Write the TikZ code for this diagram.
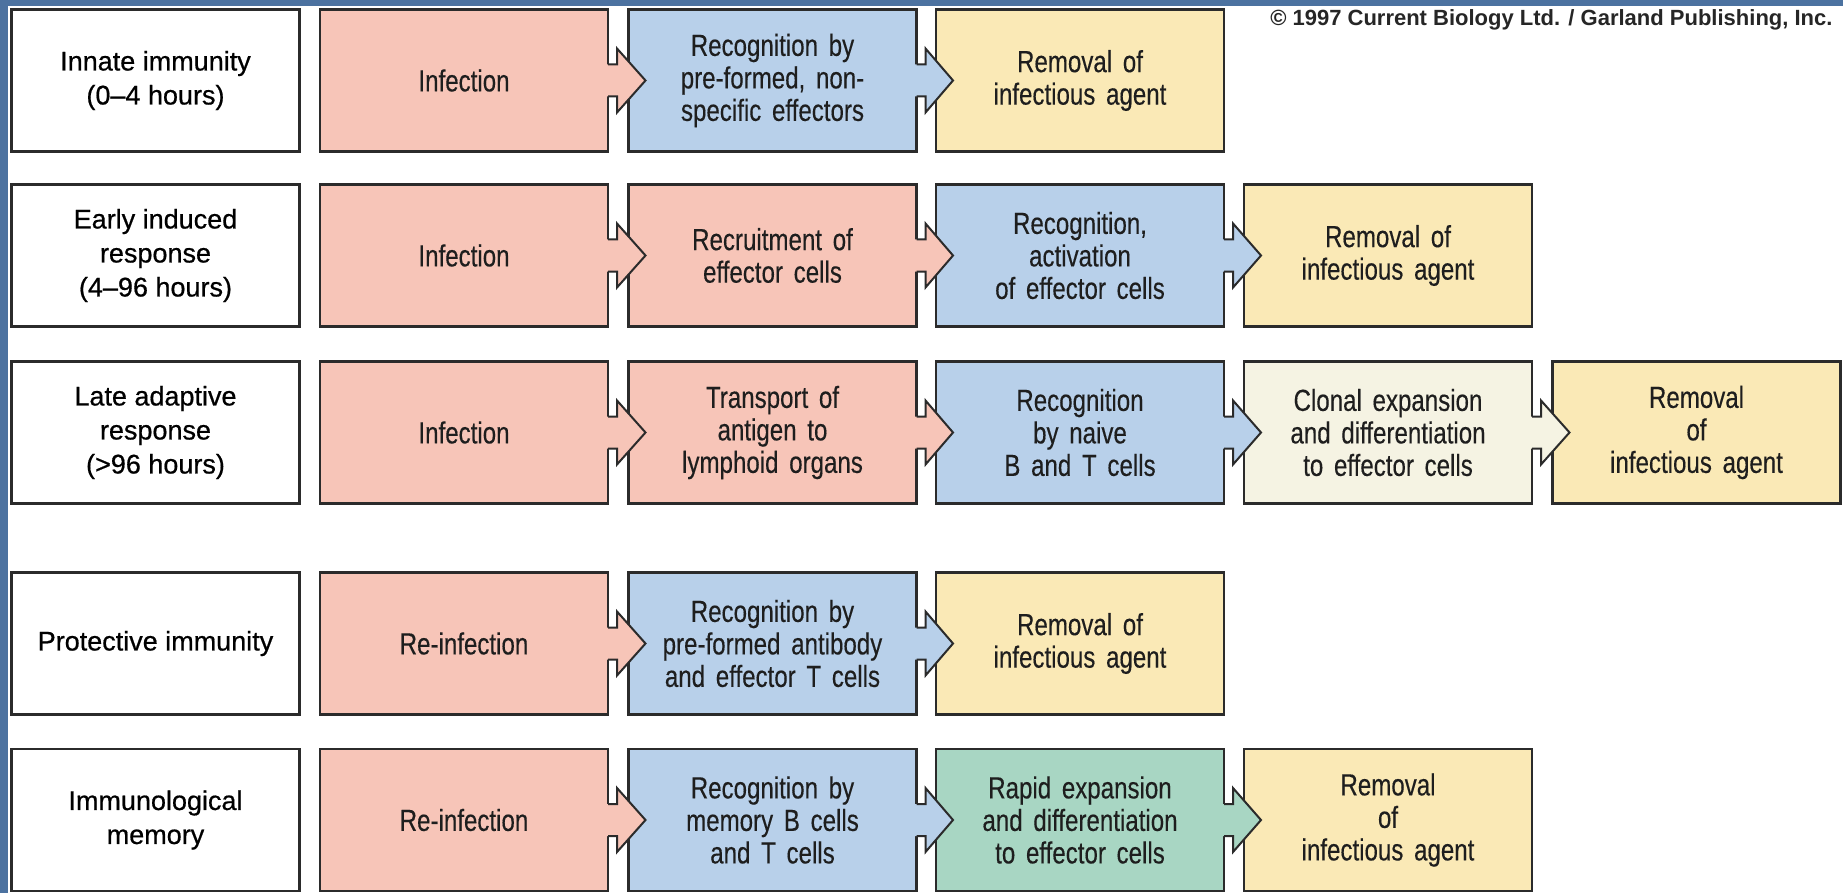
\documentclass[tikz,border=0pt]{standalone}
\usepackage{fontspec}
\setmainfont{Liberation Sans}
\newfontfamily\boxfont[FakeStretch=0.79, WordSpace=1.6, FakeBold=0.3]{Liberation Sans}
\newfontfamily\labfont[FakeBold=0.6]{Liberation Sans}
\usetikzlibrary{calc}
\definecolor{bgblue}{HTML}{4C72A0}
\definecolor{pinkc}{HTML}{F7C5B8}
\definecolor{bluec}{HTML}{B8D0EA}
\definecolor{yelc}{HTML}{FAE9B6}
\definecolor{creamc}{HTML}{F5F3E3}
\definecolor{greenc}{HTML}{A8D6C3}
\definecolor{edgec}{HTML}{2B2B2B}
\definecolor{txtc}{HTML}{1E1E1E}
\tikzset{
  box/.style={draw=edgec, line width=2.5pt, minimum width=288pt, minimum height=142pt,
    inner sep=0pt, outer sep=0pt, align=center, text=txtc,
    font={\boxfont\fontsize{30.5}{32.5}\selectfont}},
  labelbox/.style={box, fill=white, text=black, font={\labfont\fontsize{27}{34}\selectfont}},
  pinkbox/.style={box, fill=pinkc},
  bluebox/.style={box, fill=bluec},
  yelbox/.style={box, fill=yelc},
  creambox/.style={box, fill=creamc},
  greenbox/.style={box, fill=greenc},
  arrowline/.style={draw=edgec, line width=2pt, line join=miter}
}
\newcommand\flowarrow[3]{%
  \fill[#3] ($(#1.east)+(-3,-16)$) -- ($(#1.east)+(9,-16)$) -- ($(#1.east)+(9,-32)$)
    -- ($(#2.west)+(17,0)$) -- ($(#1.east)+(9,32)$) -- ($(#1.east)+(9,16)$)
    -- ($(#1.east)+(-3,16)$) -- cycle;
  \draw[arrowline] ($(#1.east)+(0,-16)$) -- ($(#1.east)+(9,-16)$) -- ($(#1.east)+(9,-32)$)
    -- ($(#2.west)+(17,0)$) -- ($(#1.east)+(9,32)$) -- ($(#1.east)+(9,16)$)
    -- ($(#1.east)+(0,16)$);
}
\begin{document}
\begin{tikzpicture}[x=1pt,y=-1pt]
\useasboundingbox (0,0) rectangle (1843,893);
\fill[bgblue] (0,0) rectangle (1843,893);
\fill[white] (8,6) rectangle (1843,893);

\node[anchor=east, text=black!85, font={\bfseries\fontsize{22}{24}\selectfont}] (copy) at (1836,20)
  {© 1997 Current Biology Ltd. / Garland Publishing, Inc.};

% row 1
\node[labelbox] (r1c0) at (155.5,80.5) {Innate immunity\\(0–4 hours)};
\node[pinkbox]  (r1c1) at (464,80.5) {Infection};
\node[bluebox]  (r1c2) at (772.5,80.5) {Recognition by\\pre-formed, non-\\specific effectors};
\node[yelbox]   (r1c3) at (1080,80.5) {Removal of\\infectious agent};
% row 2
\node[labelbox] (r2c0) at (155.5,255.5) {Early induced\\response\\(4–96 hours)};
\node[pinkbox]  (r2c1) at (464,255.5) {Infection};
\node[pinkbox]  (r2c2) at (772.5,255.5) {Recruitment of\\effector cells};
\node[bluebox]  (r2c3) at (1080,255.5) {Recognition,\\activation\\of effector cells};
\node[yelbox]   (r2c4) at (1388,255.5) {Removal of\\infectious agent};
% row 3
\node[labelbox] (r3c0) at (155.5,432.5) {Late adaptive\\response\\(>96 hours)};
\node[pinkbox]  (r3c1) at (464,432.5) {Infection};
\node[pinkbox]  (r3c2) at (772.5,432.5) {Transport of\\antigen to\\lymphoid organs};
\node[bluebox]  (r3c3) at (1080,432.5) {Recognition\\by naive\\B and T cells};
\node[creambox] (r3c4) at (1388,432.5) {Clonal expansion\\and differentiation\\to effector cells};
\node[yelbox]   (r3c5) at (1696.5,432.5) {Removal\\of\\infectious agent};
% row 4
\node[labelbox] (r4c0) at (155.5,643.5) {Protective immunity};
\node[pinkbox]  (r4c1) at (464,643.5) {Re-infection};
\node[bluebox]  (r4c2) at (772.5,643.5) {Recognition by\\pre-formed antibody\\and effector T cells};
\node[yelbox]   (r4c3) at (1080,643.5) {Removal of\\infectious agent};
% row 5
\node[labelbox] (r5c0) at (155.5,820) {Immunological\\memory};
\node[pinkbox]  (r5c1) at (464,820) {Re-infection};
\node[bluebox]  (r5c2) at (772.5,820) {Recognition by\\memory B cells\\and T cells};
\node[greenbox] (r5c3) at (1080,820) {Rapid expansion\\and differentiation\\to effector cells};
\node[yelbox]   (r5c4) at (1388,820) {Removal\\of\\infectious agent};

% arrows
\flowarrow{r1c1}{r1c2}{pinkc}
\flowarrow{r1c2}{r1c3}{bluec}
\flowarrow{r2c1}{r2c2}{pinkc}
\flowarrow{r2c2}{r2c3}{pinkc}
\flowarrow{r2c3}{r2c4}{bluec}
\flowarrow{r3c1}{r3c2}{pinkc}
\flowarrow{r3c2}{r3c3}{pinkc}
\flowarrow{r3c3}{r3c4}{bluec}
\flowarrow{r3c4}{r3c5}{creamc}
\flowarrow{r4c1}{r4c2}{pinkc}
\flowarrow{r4c2}{r4c3}{bluec}
\flowarrow{r5c1}{r5c2}{pinkc}
\flowarrow{r5c2}{r5c3}{bluec}
\flowarrow{r5c3}{r5c4}{greenc}
\end{tikzpicture}
\end{document}
